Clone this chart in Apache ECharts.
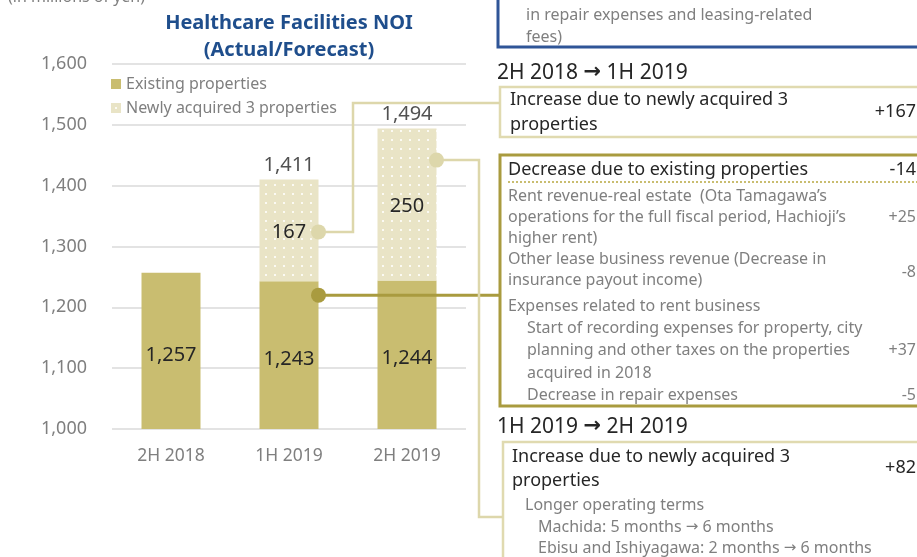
<!DOCTYPE html>
<html><head><meta charset="utf-8">
<script src="https://cdn.jsdelivr.net/npm/echarts@6/dist/echarts.min.js"></script>
<style>html,body{margin:0;padding:0;background:#fff}#c{width:917px;height:557px}</style>
</head><body><div id="c"></div>
<script>
var categories = ['2H 2018', '1H 2019', '2H 2019'];
var existing = [1257, 1243, 1244];
var newlyAcquired = ['-', 167, 250];
var totals = ['-', 1411, 1494];
var yTicks = {min: 1000, max: 1600, interval: 100};

var FONT = '"Noto Sans", "Open Sans", sans-serif';
var C_EXIST = '#C9BD70', C_NEW = '#E9E4C6', C_DARK = '#A99B3F', C_LIGHTLINE = '#DDD7AB';
var GRAY = '#7F7F7F', DARK = '#262626';

// dotted pattern for newly acquired
var pc = document.createElement('canvas'); pc.width = 9; pc.height = 9;
var pctx = pc.getContext('2d');
pctx.fillStyle = C_NEW; pctx.fillRect(0,0,9,9);
pctx.fillStyle = '#FBFAF3'; pctx.fillRect(4,4,2,2);

function fmt(v){ return String(v).replace(/\B(?=(\d{3})+(?!\d))/g, ','); }

var chart = echarts.init(document.getElementById('c'), null, {renderer:'canvas'});
var option = {
  animation: false,
  textStyle: {fontFamily: FONT},
  title: {
    text: 'Healthcare Facilities NOI\n(Actual/Forecast)',
    left: 284, top: 5, textAlign: 'center',
    textStyle: {fontSize: 20, fontWeight: 'bold', color: '#1F4E8C', lineHeight: 27, fontFamily: FONT}
  },
  legend: {
    data: ['Existing properties', 'Newly acquired 3 properties'],
    orient: 'vertical', left: 106, top: 71, itemWidth: 10, itemHeight: 10, itemGap: 8,
    textStyle: {fontSize: 16, color: GRAY, fontFamily: FONT},
    icon: 'rect'
  },
  grid: {left: 112, right: 451, top: 64, bottom: 128},
  xAxis: {
    type: 'category', data: categories,
    axisLine: {show: false}, axisTick: {show: false},
    axisLabel: {fontSize: 17.5, color: GRAY, margin: 18, fontFamily: FONT}
  },
  yAxis: {
    type: 'value', min: yTicks.min, max: yTicks.max, interval: yTicks.interval,
    axisLabel: {fontSize: 18, color: GRAY, margin: 25, formatter: fmt, fontFamily: FONT},
    splitLine: {lineStyle: {color: '#E3E3E3', width: 2}}
  },
  series: [
    {name: 'Existing properties', type: 'bar', stack: 's', barWidth: '50%', data: existing,
     itemStyle: {color: C_EXIST},
     label: {show: true, position: 'inside', fontSize: 20, color: DARK, formatter: function(p){return fmt(p.value);}, fontFamily: FONT, offset:[0,4]}},
    {name: 'Newly acquired 3 properties', type: 'bar', stack: 's', barWidth: '50%', data: newlyAcquired,
     itemStyle: {color: {image: pc, repeat: 'repeat'}},
     label: {show: true, position: 'inside', fontSize: 20, color: DARK, formatter: function(p){return fmt(p.value);}, fontFamily: FONT, offset:[0,2]}},
    {name: 'Total', type: 'scatter', data: totals, symbolSize: 0, silent: true,
     label: {show: true, position: 'top', distance: 4, fontSize: 20, color: DARK, formatter: function(p){return fmt(p.value);}, fontFamily: FONT}}
  ]
};
chart.setOption(option);

// annotations
var cat1 = chart.convertToPixel({xAxisIndex:0}, categories[1]);
var cat2 = chart.convertToPixel({xAxisIndex:0}, categories[2]);
var catW = cat2 - cat1;
var half = catW * 0.25;
var d1 = [cat1 + half, chart.convertToPixel({yAxisIndex:0}, 1324)];
var d2 = [cat1 + half, chart.convertToPixel({yAxisIndex:0}, 1220)];
var d3 = [cat2 + half, chart.convertToPixel({yAxisIndex:0}, 1442)];

var RICH = {ar: {font: 'bold 21px "DejaVu Sans"', fill: DARK}, sa: {font: '15px "DejaVu Sans"', fill: GRAY}};
function txt(t, x, y, size, color, align){
  return {type:'text', z: 10, style:{text:t, x:x, y:y, font: size+'px '+FONT, fill: color, textAlign: align||'left', textVerticalAlign:'middle', rich: RICH}};
}
function hdr(a, b, x, y){
  return {type:'text', z: 10, style:{text: a + ' {ar|\u2192} ' + b, x:x, y:y, font: '21px '+FONT, fill: DARK, textVerticalAlign:'middle', rich: RICH}};
}
var g = [];
// top blue box
g.push({type:'rect', shape:{x:498, y:-20, width:440, height:67}, style:{fill:'none', stroke:'#2F5597', lineWidth:3}});
g.push(txt('in repair expenses and leasing-related', 526, 15, 16, GRAY));
g.push(txt('fees)', 526, 37, 16, GRAY));
g.push(txt('(in millions of yen)', 8, -3, 16, GRAY));

// headers
g.push(hdr('2H 2018', '1H 2019', 497, 73));
g.push(hdr('1H 2019', '2H 2019', 497, 427));

// box 1
g.push({type:'rect', shape:{x:500, y:87, width:440, height:50}, style:{fill:'none', stroke:'#E0DAB0', lineWidth:2.5}});
g.push(txt('Increase due to newly acquired 3', 510, 100, 18, DARK));
g.push(txt('properties', 510, 125, 18, DARK));
g.push(txt('+167', 916, 112, 18, DARK, 'right'));

// box 2
g.push({type:'rect', shape:{x:500, y:155, width:440, height:251}, style:{fill:'none', stroke:C_DARK, lineWidth:3}});
g.push(txt('Decrease due to existing properties', 508, 170, 18, DARK));
g.push(txt('-14', 916, 170, 18, DARK, 'right'));
g.push({type:'line', shape:{x1:508, y1:182, x2:920, y2:182}, style:{stroke:C_EXIST, lineWidth:2, lineDash:[2,2]}});
var grayLines = [
  ['Rent revenue-real estate  (Ota Tamagawa\u2019s', 508, 196],
  ['operations for the full fiscal period, Hachioji\u2019s', 508, 217],
  ['higher rent)', 508, 238],
  ['Other lease business revenue (Decrease in', 508, 259],
  ['insurance payout income)', 508, 280],
  ['Expenses related to rent business', 508, 306],
  ['Start of recording expenses for property, city', 527, 328],
  ['planning and other taxes on the properties', 527, 350],
  ['acquired in 2018', 527, 373],
  ['Decrease in repair expenses', 527, 395]
];
grayLines.forEach(function(l){ g.push(txt(l[0], l[1], l[2], 16, GRAY)); });
g.push(txt('+25', 916, 217, 16, GRAY, 'right'));
g.push(txt('-8', 916, 272, 16, GRAY, 'right'));
g.push(txt('+37', 916, 350, 16, GRAY, 'right'));
g.push(txt('-5', 916, 395, 16, GRAY, 'right'));

// box 3
g.push({type:'rect', shape:{x:503, y:442, width:440, height:140}, style:{fill:'none', stroke:'#E0DAB0', lineWidth:2.5}});
g.push(txt('Increase due to newly acquired 3', 512, 457, 18, DARK));
g.push(txt('properties', 512, 481, 18, DARK));
g.push(txt('+82', 916, 468, 18, DARK, 'right'));
g.push(txt('Longer operating terms', 525, 505, 16, GRAY));
g.push(txt('Machida: 5 months {sa|\u2192} 6 months', 538, 527, 16, GRAY));
g.push(txt('Ebisu and Ishiyagawa: 2 months {sa|\u2192} 6 months', 538, 548, 16, GRAY));

// connectors
g.push({type:'polyline', z: 5, shape:{points:[d1, [353, d1[1]], [353, 103], [500, 103]]}, style:{fill:'none', stroke:C_LIGHTLINE, lineWidth:2.5}});
g.push({type:'polyline', z: 5, shape:{points:[d2, [500, d2[1]]]}, style:{fill:'none', stroke:C_DARK, lineWidth:3}});
g.push({type:'polyline', z: 5, shape:{points:[d3, [479, d3[1]], [479, 517], [503, 517]]}, style:{fill:'none', stroke:C_LIGHTLINE, lineWidth:2.5}});
g.push({type:'circle', z: 6, shape:{cx:d1[0], cy:d1[1], r:7.5}, style:{fill:'#DDD7AB'}});
g.push({type:'circle', z: 6, shape:{cx:d2[0], cy:d2[1], r:7.5}, style:{fill:C_DARK}});
g.push({type:'circle', z: 6, shape:{cx:d3[0], cy:d3[1], r:7.5}, style:{fill:'#DDD7AB'}});

chart.setOption({graphic: g});
</script>
</body></html>
